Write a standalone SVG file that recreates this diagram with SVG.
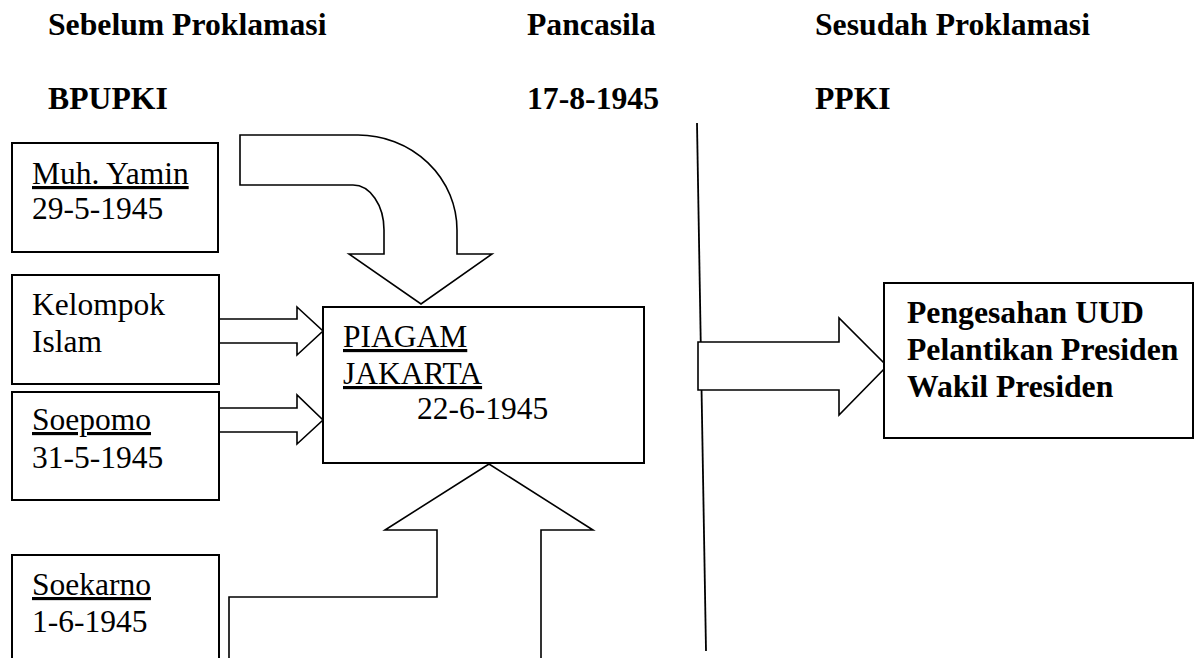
<svg xmlns="http://www.w3.org/2000/svg" width="1194" height="658" viewBox="0 0 1194 658">
<style>
.t{font-family:"Liberation Serif","Times New Roman",serif;font-size:31.5px;fill:#000}
.b{font-family:"Liberation Serif","Times New Roman",serif;font-size:31.7px;font-weight:bold;fill:#000}
.u{text-decoration:underline}
.box{fill:#fff;stroke:#000;stroke-width:2}
.arr{fill:#fff;stroke:#000;stroke-width:1.6;stroke-linejoin:miter}
.ln{fill:none;stroke:#000;stroke-width:1.8}
</style>
<rect width="1194" height="658" fill="#fff"/>
<g id="headers">
<text class="b" x="48" y="35">Sebelum Proklamasi</text>
<text class="b" x="527" y="35">Pancasila</text>
<text class="b" x="815" y="35">Sesudah Proklamasi</text>
<text class="b" x="48" y="109">BPUPKI</text>
<text class="b" x="527" y="109">17-8-1945</text>
<text class="b" x="815" y="109">PPKI</text>
</g>
<g id="connectors">
<path class="ln" d="M697,123 L706,651"/>
<path class="arr" d="M240,135 H358 A99,95 0 0 1 457,230 V254 H492 L421,304 L349,254 H384 V230 A31,45 0 0 0 353,185 H240 Z"/>
<path class="arr" d="M219,319 H297 V307 L323,331 L297,355 V343 H219"/>
<path class="arr" d="M219,408 H297 V395 L323,420 L297,444 V432 H219"/>
<path class="arr" d="M229,662 V597 H437 V530 H385 L489,464 L593,530 H541 V662"/>
<path class="arr" d="M698,342 H839 V318 L887,366 L839,415 V390 H698 Z"/>
</g>
<g id="yamin">
<rect class="box" x="12" y="143" width="206" height="109"/>
<text class="t u" x="32" y="184">Muh. Yamin</text>
<text class="t" x="32" y="219">29-5-1945</text>
</g>
<g id="kelompok">
<rect class="box" x="12" y="275" width="207" height="109"/>
<text class="t" x="32" y="315">Kelompok</text>
<text class="t" x="32" y="352">Islam</text>
</g>
<g id="soepomo">
<rect class="box" x="12" y="392" width="207" height="108"/>
<text class="t u" x="32" y="430">Soepomo</text>
<text class="t" x="32" y="468">31-5-1945</text>
</g>
<g id="soekarno">
<rect class="box" x="12" y="555" width="207" height="140"/>
<text class="t u" x="32" y="595">Soekarno</text>
<text class="t" x="32" y="632">1-6-1945</text>
</g>
<g id="piagam">
<rect class="box" x="323" y="307" width="321" height="156"/>
<text class="t u" x="343" y="347">PIAGAM</text>
<text class="t u" x="343" y="384">JAKARTA</text>
<text class="t" x="417" y="419">22-6-1945</text>
</g>
<g id="ppki-result">
<rect class="box" x="884" y="283" width="309" height="155"/>
<text class="b" x="907" y="323">Pengesahan UUD</text>
<text class="b" x="907" y="360">Pelantikan Presiden</text>
<text class="b" x="907" y="397">Wakil Presiden</text>
</g>
</svg>
